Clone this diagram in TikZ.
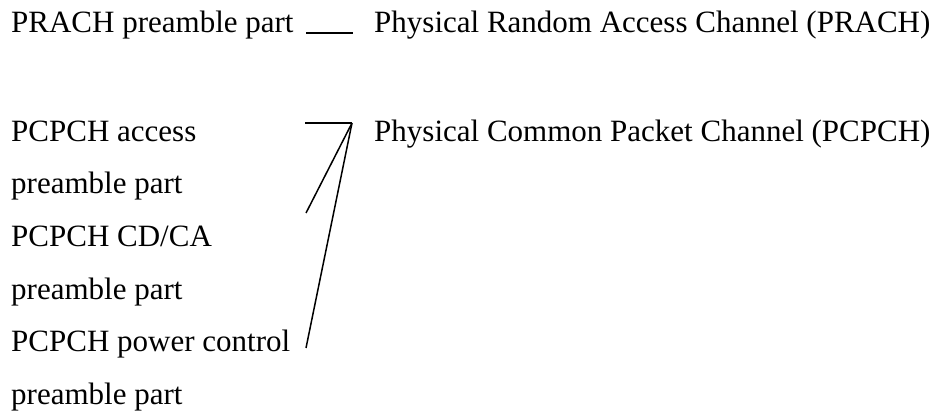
\documentclass[tikz,border=0pt]{standalone}
\usepackage{fontspec}
\setmainfont{Liberation Serif}
\tikzset{
  lbl/.style={anchor=base west, inner sep=0pt, font=\fontsize{31}{37}\selectfont},
  conn/.style={line width=1.5pt}
}
\begin{document}
\begin{tikzpicture}[x=1pt,y=1pt]
  \useasboundingbox (0,0) rectangle (944,415);

  % PRACH
  \node[lbl] (prachpre) at (11,382) {PRACH preamble part};
  \node[lbl] (prach) at (374,382) {Physical Random Access Channel (PRACH)};
  \coordinate (u1) at (306,382);
  \coordinate (u2) at (353,382);
  \draw[conn] (u1) -- (u2);

  % PCPCH Teile
  \node[lbl] (acc) at (11,273.5) {PCPCH access};
  \node[lbl] (accpre) at (11,221) {preamble part};
  \node[lbl] (cdca) at (11,168.5) {PCPCH CD/CA};
  \node[lbl] (cdcapre) at (11,116) {preamble part};
  \node[lbl] (pc) at (11,63.5) {PCPCH power control};
  \node[lbl] (pcpre) at (11,11) {preamble part};
  \node[lbl] (pcpch) at (374,273.5) {Physical Common Packet Channel (PCPCH)};

  % Linien zum PCPCH
  \coordinate (apex) at (352,292);
  \coordinate (e1) at (305,292);
  \coordinate (e2) at (306,202);
  \coordinate (e3) at (306,67);
  \draw[conn] (e1) -- (apex);
  \draw[conn] (e2) -- (apex);
  \draw[conn] (e3) -- (apex);
\end{tikzpicture}
\end{document}
